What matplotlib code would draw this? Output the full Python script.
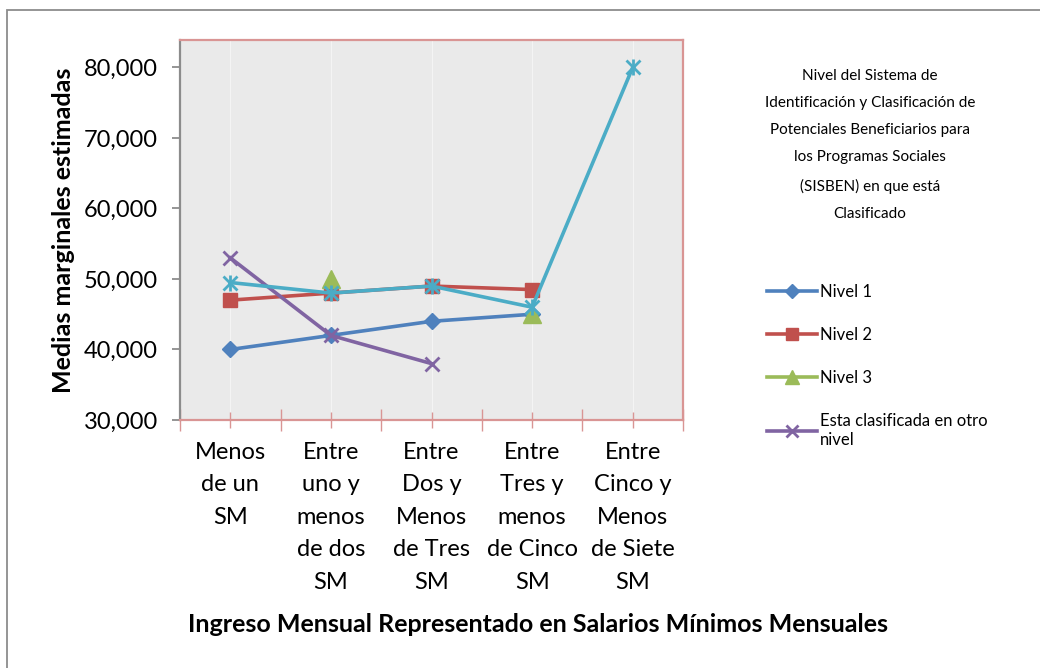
import matplotlib.pyplot as plt
from matplotlib.patches import Rectangle
import numpy as np

plt.rcParams['font.family'] = ['Lato', 'DejaVu Sans']

# categories on the x axis
categorias = ['Menos\nde un\nSM',
              'Entre\nuno y\nmenos\nde dos\nSM',
              'Entre\nDos y\nMenos\nde Tres\nSM',
              'Entre\nTres y\nmenos\nde Cinco\nSM',
              'Entre\nCinco y\nMenos\nde Siete\nSM']

# estimated marginal means per SISBEN level (nan = no value)
nivel1 = [40000, 42000, 44000, 45000, np.nan]
nivel2 = [47000, 48000, 49000, 48500, np.nan]
nivel3 = [np.nan, 50000, np.nan, 45000, np.nan]
otro_nivel = [53000, 42000, 38000, np.nan, np.nan]
nivel4 = [49500, 48000, 49000, 46000, 80000]

yticks = [30000, 40000, 50000, 60000, 70000, 80000]
ytick_labels = ['30,000', '40,000', '50,000', '60,000', '70,000', '80,000']

legend_titulo = ('Nivel del Sistema de\nIdentificación y Clasificación de\n'
                 'Potenciales Beneficiarios para\nlos Programas Sociales\n'
                 '(SISBEN) en que está\nClasificado')

fig = plt.figure(figsize=(10.4, 6.68), dpi=100)
ax = fig.add_axes([180/1040, 1 - 420/668, 503/1040, 380/668])

# outer chart border (left and top only visible)
fig.patches.append(Rectangle((7/1040, -0.1), 1.2, 1 - 10/668 + 0.1,
                             transform=fig.transFigure, fill=False,
                             edgecolor='#8c8c8c', lw=1.3))

x = np.arange(len(categorias))
lw = 2.6

ax.plot(x, nivel1, color='#4F81BD', lw=lw, marker='D', ms=8.5, label='Nivel 1', zorder=3)
ax.plot(x, nivel2, color='#C0504D', lw=lw, marker='s', ms=10, label='Nivel 2', zorder=3)
ax.plot(x, nivel3, color='#9BBB59', lw=lw, marker='^', ms=13, label='Nivel 3', zorder=3)
ax.plot(x, otro_nivel, color='#8064A2', lw=lw, marker='x', ms=10, mew=2,
        label='Esta clasificada en otro\nnivel', zorder=4)
ax.plot(x, nivel4, color='#4BACC6', lw=lw, marker='x', ms=10, mew=2, zorder=5)
ax.plot(x, nivel4, color='#4BACC6', ls='none', marker='|', ms=12, mew=2, zorder=5)

ax.set_facecolor('#EAEAEA')
ax.set_xlim(-0.5, 4.5)
ax.set_ylim(30000, 83900)

ax.set_yticks(yticks)
ax.set_yticklabels(ytick_labels, fontsize=17)
ax.set_xticks(x)
ax.set_xticklabels(categorias, fontsize=17, linespacing=1.68, va='top')
ax.set_xticks(np.arange(-0.5, 5, 1), minor=True)

ax.tick_params(axis='y', direction='out', length=6, width=1.3, color='#8c8c8c', pad=10)
ax.tick_params(axis='x', which='major', direction='inout', length=11, width=1,
               color='#D99594', pad=10)
ax.tick_params(axis='x', which='minor', direction='inout', length=16, width=1,
               color='#D99594')

for s in ['top', 'right', 'bottom']:
    ax.spines[s].set_color('#D99594')
    ax.spines[s].set_linewidth(1.6)
ax.spines['left'].set_color('#8c8c8c')
ax.spines['left'].set_linewidth(1.6)

ax.grid(axis='x', which='major', color='#F4F4F4', lw=0.8, zorder=0)
ax.set_axisbelow(True)

ax.set_ylabel('Medias marginales estimadas', fontsize=18, fontweight='bold', labelpad=6)
ax.set_xlabel('Ingreso Mensual Representado en Salarios Mínimos Mensuales',
              fontsize=18, fontweight='bold')
# the x title sits to the right of the plot centre, like the original
ax.xaxis.set_label_coords((538 - 180) / 503, -(625 - 420) / 380)
ax.xaxis.label.set_va('center')

fig.text(870/1040, 1 - 145/668, legend_titulo, ha='center', va='center',
         fontsize=11, linespacing=2.18)

handles, labels = ax.get_legend_handles_labels()
fig.legend(handles, labels, loc='upper left', bbox_to_anchor=(752/1040, 1 - 269/668),
           frameon=False, fontsize=12, handlelength=3.0, handletextpad=0.15,
           labelspacing=1.63, markerscale=0.8)

fig.savefig('out.png', dpi=100)
